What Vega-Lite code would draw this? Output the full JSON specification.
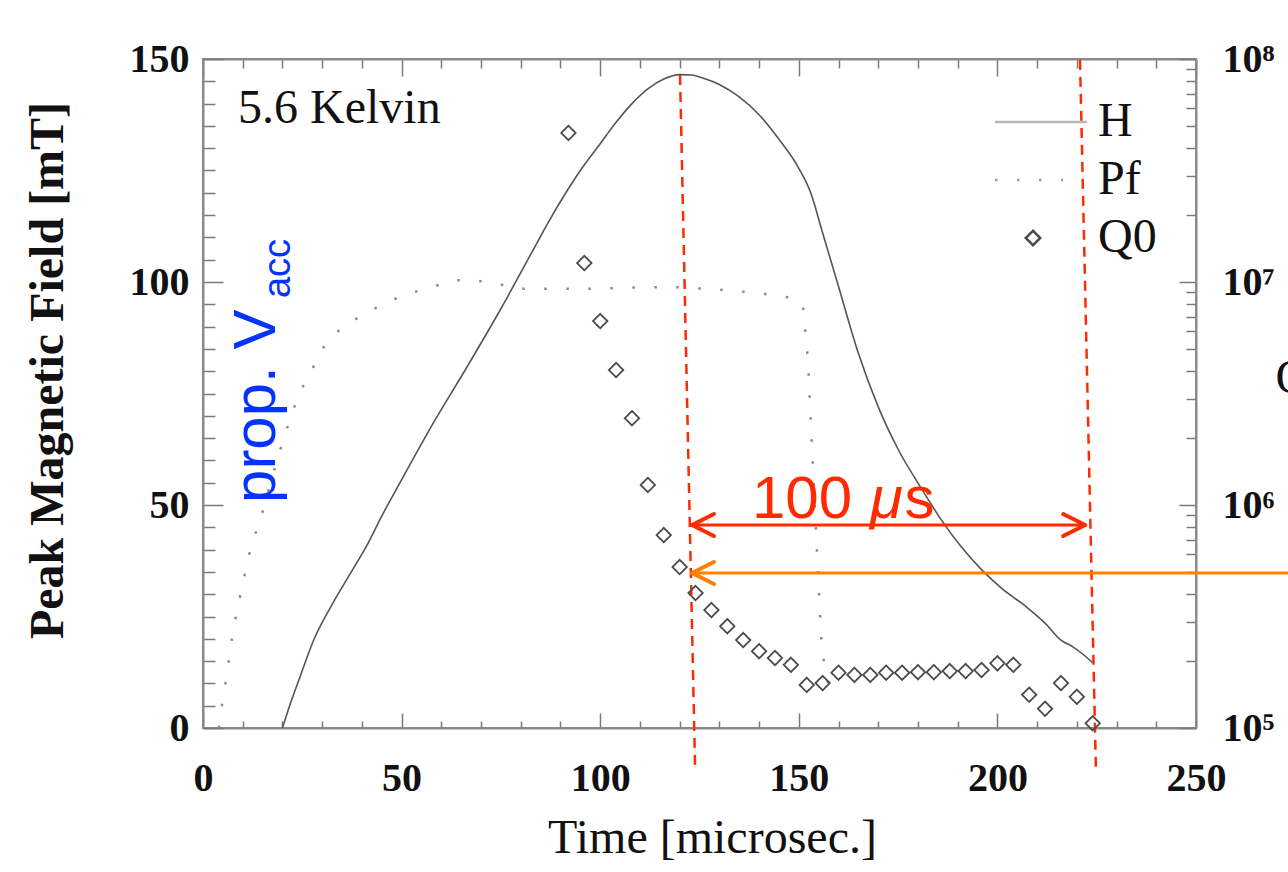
{
  "$schema": "https://vega.github.io/schema/vega-lite/v6.json",
  "width": 993,
  "height": 669,
  "autosize": "none",
  "padding": {"left": 203, "top": 59, "right": 92, "bottom": 144},
  "background": "white",
  "config": {
    "view": {"stroke": "#8a8a8a", "strokeWidth": 2},
    "axis": {
      "grid": false,
      "domainColor": "#8a8a8a",
      "domainWidth": 2,
      "tickColor": "#7a7a7a",
      "tickWidth": 1.5,
      "labelFont": "Liberation Serif",
      "labelFontWeight": "bold",
      "labelFontSize": 40,
      "labelColor": "#111111",
      "titleFont": "Liberation Serif",
      "titleColor": "#111111",
      "labelOverlap": false,
      "labelFlush": false
    },
    "legend": {
      "orient": "none",
      "legendX": 806,
      "legendY": 39,
      "padding": 0,
      "labelFont": "Liberation Serif",
      "labelFontSize": 48,
      "labelColor": "#111111",
      "labelOffset": 41,
      "rowPadding": 10,
      "symbolSize": 400,
      "symbolStrokeWidth": 2.5,
      "symbolOpacity": 1
    }
  },
  "datasets": {
    "curves": [
      {"s": "H", "t": 20, "v": 0},
      {"s": "H", "t": 22, "v": 5.5},
      {"s": "H", "t": 24.4, "v": 11.4},
      {"s": "H", "t": 28, "v": 20},
      {"s": "H", "t": 32.7, "v": 28},
      {"s": "H", "t": 37, "v": 34.5},
      {"s": "H", "t": 41.3, "v": 41},
      {"s": "H", "t": 45, "v": 47.5},
      {"s": "H", "t": 49.6, "v": 55},
      {"s": "H", "t": 58, "v": 68.4},
      {"s": "H", "t": 66.5, "v": 81},
      {"s": "H", "t": 75, "v": 94},
      {"s": "H", "t": 83, "v": 107},
      {"s": "H", "t": 87, "v": 113.5},
      {"s": "H", "t": 91, "v": 119.5},
      {"s": "H", "t": 95, "v": 125},
      {"s": "H", "t": 100, "v": 131},
      {"s": "H", "t": 104, "v": 135.8},
      {"s": "H", "t": 108, "v": 140},
      {"s": "H", "t": 112, "v": 143.3},
      {"s": "H", "t": 116, "v": 145.5},
      {"s": "H", "t": 120, "v": 146.5},
      {"s": "H", "t": 123, "v": 146.4},
      {"s": "H", "t": 126, "v": 145.7},
      {"s": "H", "t": 130, "v": 144.3},
      {"s": "H", "t": 135, "v": 141.5},
      {"s": "H", "t": 140, "v": 137.5},
      {"s": "H", "t": 145, "v": 132},
      {"s": "H", "t": 150, "v": 125.5},
      {"s": "H", "t": 153, "v": 120},
      {"s": "H", "t": 156, "v": 111},
      {"s": "H", "t": 160, "v": 99},
      {"s": "H", "t": 165, "v": 84},
      {"s": "H", "t": 170, "v": 72},
      {"s": "H", "t": 175, "v": 62.5},
      {"s": "H", "t": 181, "v": 53.5},
      {"s": "H", "t": 186, "v": 46.5},
      {"s": "H", "t": 191, "v": 40.5},
      {"s": "H", "t": 196, "v": 35.5},
      {"s": "H", "t": 200.7, "v": 31.6},
      {"s": "H", "t": 207.5, "v": 27},
      {"s": "H", "t": 212, "v": 23.5},
      {"s": "H", "t": 216, "v": 19.7},
      {"s": "H", "t": 219, "v": 18.2},
      {"s": "H", "t": 222, "v": 16.2},
      {"s": "H", "t": 224, "v": 14.6},
      {"s": "Pf", "t": 4, "v": 0},
      {"s": "Pf", "t": 4.3, "v": 2.5},
      {"s": "Pf", "t": 6, "v": 12},
      {"s": "Pf", "t": 7.6, "v": 22},
      {"s": "Pf", "t": 9.8, "v": 31.6},
      {"s": "Pf", "t": 12.3, "v": 41.5},
      {"s": "Pf", "t": 14.3, "v": 46.2},
      {"s": "Pf", "t": 17, "v": 55},
      {"s": "Pf", "t": 18.9, "v": 60.8},
      {"s": "Pf", "t": 22.4, "v": 70.6},
      {"s": "Pf", "t": 24.4, "v": 75.3},
      {"s": "Pf", "t": 27.4, "v": 80.3},
      {"s": "Pf", "t": 30.2, "v": 85.2},
      {"s": "Pf", "t": 35.2, "v": 90.1},
      {"s": "Pf", "t": 40.3, "v": 92.6},
      {"s": "Pf", "t": 45.8, "v": 95.3},
      {"s": "Pf", "t": 51.4, "v": 97.3},
      {"s": "Pf", "t": 57.2, "v": 98.7},
      {"s": "Pf", "t": 62.7, "v": 100.4},
      {"s": "Pf", "t": 67.7, "v": 100.4},
      {"s": "Pf", "t": 73.5, "v": 99.8},
      {"s": "Pf", "t": 79, "v": 98.5},
      {"s": "Pf", "t": 90, "v": 98.5},
      {"s": "Pf", "t": 100, "v": 98.5},
      {"s": "Pf", "t": 110, "v": 98.8},
      {"s": "Pf", "t": 120, "v": 98.8},
      {"s": "Pf", "t": 130, "v": 98.3},
      {"s": "Pf", "t": 140, "v": 97.5},
      {"s": "Pf", "t": 148, "v": 96.5},
      {"s": "Pf", "t": 151, "v": 95},
      {"s": "Pf", "t": 152.3, "v": 82.5},
      {"s": "Pf", "t": 154, "v": 50},
      {"s": "Pf", "t": 155.8, "v": 17.5},
      {"s": "Pf", "t": 157.9, "v": 7.4}
    ],
    "q0": [
      {"s": "Q0", "t": 92, "q": 46600000},
      {"s": "Q0", "t": 96, "q": 12160000},
      {"s": "Q0", "t": 100, "q": 6680000},
      {"s": "Q0", "t": 104, "q": 4030000},
      {"s": "Q0", "t": 108, "q": 2450000},
      {"s": "Q0", "t": 112, "q": 1230000},
      {"s": "Q0", "t": 116, "q": 733000},
      {"s": "Q0", "t": 120, "q": 527000},
      {"s": "Q0", "t": 124, "q": 403000},
      {"s": "Q0", "t": 128, "q": 338000},
      {"s": "Q0", "t": 132, "q": 286000},
      {"s": "Q0", "t": 136, "q": 248000},
      {"s": "Q0", "t": 140, "q": 221000},
      {"s": "Q0", "t": 144, "q": 206000},
      {"s": "Q0", "t": 148, "q": 192000},
      {"s": "Q0", "t": 152, "q": 156000},
      {"s": "Q0", "t": 156, "q": 159000},
      {"s": "Q0", "t": 160, "q": 177000},
      {"s": "Q0", "t": 164, "q": 173000},
      {"s": "Q0", "t": 168, "q": 173000},
      {"s": "Q0", "t": 172, "q": 177000},
      {"s": "Q0", "t": 176, "q": 177000},
      {"s": "Q0", "t": 180, "q": 178000},
      {"s": "Q0", "t": 184, "q": 178000},
      {"s": "Q0", "t": 188, "q": 180000},
      {"s": "Q0", "t": 192, "q": 180000},
      {"s": "Q0", "t": 196, "q": 182000},
      {"s": "Q0", "t": 200, "q": 195000},
      {"s": "Q0", "t": 204, "q": 192000},
      {"s": "Q0", "t": 208, "q": 141000},
      {"s": "Q0", "t": 212, "q": 122000},
      {"s": "Q0", "t": 216, "q": 159000},
      {"s": "Q0", "t": 220, "q": 138000},
      {"s": "Q0", "t": 224, "q": 105000}
    ],
    "notes": [
      {"id": "kelvin", "label": "5.6 Kelvin", "t": 8.81, "v": 135.65},
      {"id": "prop", "label": "prop. V", "t": 18.13, "v": 50.45},
      {"id": "acc", "label": "acc", "t": 21.9, "v": 96.4},
      {"id": "num", "label": "100 ", "t": 138.2, "v": 47.09},
      {"id": "mu", "label": "μ", "t": 167.9, "v": 47.09},
      {"id": "sec", "label": "s", "t": 176.6, "v": 47.09}
    ],
    "markers": [
      {"id": "d1", "t": 120.1, "v": 146.4},
      {"id": "d1", "t": 123.9, "v": -9.4},
      {"id": "d2", "t": 220.8, "v": 149.8},
      {"id": "d2", "t": 224.8, "v": -9.4}
    ],
    "spans": [
      {"id": "red", "t": 123.1, "t2": 222.1, "v": 45.5},
      {"id": "orange", "t": 123.1, "t2": 273.2, "v": 34.75}
    ],
    "heads": [
      {"id": "red", "dir": "left", "t": 123.1, "v": 45.5},
      {"id": "red", "dir": "right", "t": 222.1, "v": 45.5},
      {"id": "orange", "dir": "left", "t": 123.1, "v": 34.75}
    ]
  },
  "resolve": {"scale": {"y": "independent"}, "axis": {"x": "independent", "y": "independent"}},
  "layer": [
    {
      "data": {"name": "curves"},
      "transform": [{"filter": "datum.s === 'H'"}],
      "mark": {"type": "line", "color": "#555555", "strokeWidth": 1.6, "interpolate": "monotone"},
      "encoding": {
        "x": {
          "field": "t", "type": "quantitative",
          "scale": {"domain": [0, 250], "nice": false, "zero": false},
          "axis": {
            "orient": "bottom",
            "values": [0,10,20,30,40,50,60,70,80,90,100,110,120,130,140,150,160,170,180,190,200,210,220,230,240,250],
            "labelExpr": "datum.value % 50 === 0 ? datum.label : ''",
            "format": "d",
            "tickSize": {"condition": {"test": "datum.value % 50 === 0", "value": -15}, "value": -7},
            "labelPadding": 45,
            "title": "Time [microsec.]",
            "titleFontSize": 48,
            "titleFontWeight": "normal",
            "titleX": 509,
            "titleY": 124,
            "titleBaseline": "alphabetic",
            "titleAlign": "center"
          }
        },
        "y": {
          "field": "v", "type": "quantitative",
          "scale": {"domain": [0, 150], "nice": false, "zero": false},
          "axis": {
            "orient": "left",
            "values": [0,5,10,15,20,25,30,35,40,45,50,55,60,65,70,75,80,85,90,95,100,105,110,115,120,125,130,135,140,145,150],
            "labelExpr": "datum.value % 50 === 0 ? datum.label : ''",
            "format": "d",
            "tickSize": {"condition": {"test": "datum.value % 50 === 0", "value": -20}, "value": -12},
            "labelPadding": 34,
            "title": "Peak Magnetic Field [mT]",
            "titleFontSize": 48,
            "titleFontWeight": "bold",
            "titleX": -131,
            "titleY": 311,
            "titleAngle": 270,
            "titleBaseline": "bottom",
            "titleAlign": "center"
          }
        }
      }
    },
    {
      "data": {"name": "curves"},
      "transform": [{"filter": "datum.s === 'Pf'"}],
      "mark": {"type": "line", "color": "#8a8a8a", "strokeWidth": 2.5, "strokeDash": [2.5, 19.5]},
      "encoding": {
        "x": {"field": "t", "type": "quantitative", "axis": null},
        "y": {"field": "v", "type": "quantitative", "scale": {"domain": [0, 150], "nice": false, "zero": false}, "axis": null}
      }
    },
    {
      "data": {"name": "markers"},
      "mark": {"type": "line", "color": "#ff2a00", "strokeWidth": 2.5, "strokeDash": [10, 7]},
      "encoding": {
        "x": {"field": "t", "type": "quantitative", "axis": null},
        "y": {"field": "v", "type": "quantitative", "scale": {"domain": [0, 150], "nice": false, "zero": false}, "axis": null},
        "detail": {"field": "id", "type": "nominal"}
      }
    },
    {
      "data": {"name": "spans"},
      "transform": [{"filter": "datum.id === 'red'"}],
      "mark": {"type": "rule", "color": "#ff2a00", "strokeWidth": 3},
      "encoding": {
        "x": {"field": "t", "type": "quantitative", "axis": null},
        "x2": {"field": "t2"},
        "y": {"field": "v", "type": "quantitative", "scale": {"domain": [0, 150], "nice": false, "zero": false}, "axis": null}
      }
    },
    {
      "data": {"name": "spans"},
      "transform": [{"filter": "datum.id === 'orange'"}],
      "mark": {"type": "rule", "color": "#ff8000", "strokeWidth": 3},
      "encoding": {
        "x": {"field": "t", "type": "quantitative", "axis": null},
        "x2": {"field": "t2"},
        "y": {"field": "v", "type": "quantitative", "scale": {"domain": [0, 150], "nice": false, "zero": false}, "axis": null}
      }
    },
    {
      "data": {"name": "heads"},
      "transform": [{"filter": "datum.id === 'red' && datum.dir === 'left'"}],
      "mark": {"type": "point", "shape": "M2,-1L0,0L2,1", "size": 484, "filled": false, "stroke": "#ff2a00", "strokeWidth": 4, "opacity": 1, "strokeCap": "round", "strokeJoin": "round"},
      "encoding": {
        "x": {"field": "t", "type": "quantitative", "axis": null},
        "y": {"field": "v", "type": "quantitative", "scale": {"domain": [0, 150], "nice": false, "zero": false}, "axis": null}
      }
    },
    {
      "data": {"name": "heads"},
      "transform": [{"filter": "datum.id === 'red' && datum.dir === 'right'"}],
      "mark": {"type": "point", "shape": "M-2,-1L0,0L-2,1", "size": 484, "filled": false, "stroke": "#ff2a00", "strokeWidth": 4, "opacity": 1, "strokeCap": "round", "strokeJoin": "round"},
      "encoding": {
        "x": {"field": "t", "type": "quantitative", "axis": null},
        "y": {"field": "v", "type": "quantitative", "scale": {"domain": [0, 150], "nice": false, "zero": false}, "axis": null}
      }
    },
    {
      "data": {"name": "heads"},
      "transform": [{"filter": "datum.id === 'orange'"}],
      "mark": {"type": "point", "shape": "M2,-1L0,0L2,1", "size": 484, "filled": false, "stroke": "#ff8000", "strokeWidth": 4, "opacity": 1, "strokeCap": "round", "strokeJoin": "round"},
      "encoding": {
        "x": {"field": "t", "type": "quantitative", "axis": null},
        "y": {"field": "v", "type": "quantitative", "scale": {"domain": [0, 150], "nice": false, "zero": false}, "axis": null}
      }
    },
    {
      "data": {"name": "notes"},
      "transform": [{"filter": "datum.id === 'kelvin'"}],
      "mark": {"type": "text", "font": "Liberation Serif", "fontSize": 48, "align": "left", "baseline": "alphabetic", "color": "#111111"},
      "encoding": {
        "x": {"field": "t", "type": "quantitative", "axis": null},
        "y": {"field": "v", "type": "quantitative", "scale": {"domain": [0, 150], "nice": false, "zero": false}, "axis": null},
        "text": {"field": "label"}
      }
    },
    {
      "data": {"name": "notes"},
      "transform": [{"filter": "datum.id === 'prop'"}],
      "mark": {"type": "text", "font": "Liberation Sans", "fontSize": 60, "align": "left", "baseline": "alphabetic", "angle": 270, "color": "#0433ff"},
      "encoding": {
        "x": {"field": "t", "type": "quantitative", "axis": null},
        "y": {"field": "v", "type": "quantitative", "scale": {"domain": [0, 150], "nice": false, "zero": false}, "axis": null},
        "text": {"field": "label"}
      }
    },
    {
      "data": {"name": "notes"},
      "transform": [{"filter": "datum.id === 'acc'"}],
      "mark": {"type": "text", "font": "Liberation Sans", "fontSize": 38, "align": "left", "baseline": "alphabetic", "angle": 270, "color": "#0433ff"},
      "encoding": {
        "x": {"field": "t", "type": "quantitative", "axis": null},
        "y": {"field": "v", "type": "quantitative", "scale": {"domain": [0, 150], "nice": false, "zero": false}, "axis": null},
        "text": {"field": "label"}
      }
    },
    {
      "data": {"name": "notes"},
      "transform": [{"filter": "datum.id === 'num' || datum.id === 'sec'"}],
      "mark": {"type": "text", "font": "Liberation Sans", "fontSize": 60, "align": "left", "baseline": "alphabetic", "color": "#ff2a00"},
      "encoding": {
        "x": {"field": "t", "type": "quantitative", "axis": null},
        "y": {"field": "v", "type": "quantitative", "scale": {"domain": [0, 150], "nice": false, "zero": false}, "axis": null},
        "text": {"field": "label"}
      }
    },
    {
      "data": {"name": "notes"},
      "transform": [{"filter": "datum.id === 'mu'"}],
      "mark": {"type": "text", "font": "Liberation Sans", "fontSize": 60, "fontStyle": "italic", "align": "left", "baseline": "alphabetic", "color": "#ff2a00"},
      "encoding": {
        "x": {"field": "t", "type": "quantitative", "axis": null},
        "y": {"field": "v", "type": "quantitative", "scale": {"domain": [0, 150], "nice": false, "zero": false}, "axis": null},
        "text": {"field": "label"}
      }
    },
    {
      "data": {"name": "q0"},
      "mark": {"type": "point", "filled": false, "size": 400, "strokeWidth": 1.8, "opacity": 1},
      "encoding": {
        "x": {
          "field": "t", "type": "quantitative",
          "axis": {
            "orient": "top",
            "values": [0,10,20,30,40,50,60,70,80,90,100,110,120,130,140,150,160,170,180,190,200,210,220,230,240,250],
            "labels": false,
            "tickSize": {"condition": {"test": "datum.value % 50 === 0", "value": -17}, "value": -9},
            "title": null
          }
        },
        "y": {
          "field": "q", "type": "quantitative",
          "scale": {"type": "log", "domain": [100000, 100000000], "nice": false},
          "axis": {
            "orient": "right",
            "values": [100000,200000,300000,400000,500000,600000,700000,800000,900000,1000000,2000000,3000000,4000000,5000000,6000000,7000000,8000000,9000000,10000000,20000000,30000000,40000000,50000000,60000000,70000000,80000000,90000000,100000000],
            "labelExpr": "datum.value == 100000 ? '10⁵' : datum.value == 1000000 ? '10⁶' : datum.value == 10000000 ? '10⁷' : datum.value == 100000000 ? '10⁸' : ''",
            "tickSize": {"condition": {"test": "indexof([100000,1000000,10000000,100000000], datum.value) >= 0", "value": -17}, "value": -10},
            "labelPadding": 43,
            "labelAlign": "left",
            "title": "Q0",
            "titleAngle": 0,
            "titleX": 79,
            "titleY": 319,
            "titleAlign": "left",
            "titleBaseline": "middle",
            "titleFontSize": 48,
            "titleFontWeight": "normal"
          }
        },
        "shape": {
          "field": "s", "type": "nominal",
          "scale": {"domain": ["H", "Pf", "Q0"], "range": ["M-3.8,0H5.4", "M-3.8,0H3.0", "M0,-0.72L0.72,0L0,0.72L-0.72,0Z"]},
          "legend": {"title": null}
        },
        "stroke": {
          "field": "s", "type": "nominal",
          "scale": {"domain": ["H", "Pf", "Q0"], "range": ["#b8b8b8", "#9a9a9a", "#4a4a4a"]},
          "legend": {"title": null}
        },
        "strokeDash": {
          "field": "s", "type": "nominal",
          "scale": {"domain": ["H", "Pf", "Q0"], "range": [[1, 0], [2.5, 19.5], [1, 0]]},
          "legend": {"title": null}
        }
      }
    }
  ]
}
